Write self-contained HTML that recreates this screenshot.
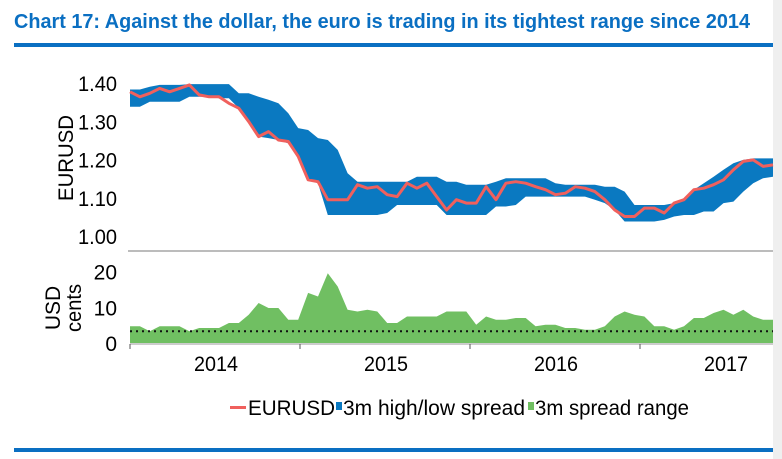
<!DOCTYPE html>
<html><head><meta charset="utf-8"><style>
html,body{margin:0;padding:0;background:#fff;}
svg{display:block;font-family:"Liberation Sans",Arial,sans-serif;}
</style></head><body>
<svg id="chart" width="782" height="459" viewBox="0 0 782 459">
<rect x="773" y="0" width="9" height="459" fill="#efefef"/>
<text x="14" y="28" font-size="20" font-weight="bold" fill="#0a6fc2" textLength="736" lengthAdjust="spacingAndGlyphs">Chart 17:  Against the dollar, the euro is trading in its tightest range since 2014</text>
<rect x="14" y="43" width="759" height="4" fill="#0a6fc2"/>
<rect x="14" y="448" width="759" height="4" fill="#0a6fc2"/>
<g id="upper"></g>
<g id="lower"></g>
<line x1="128" y1="251" x2="773" y2="251" stroke="#a6a6a6" stroke-width="1.5"/>
<text transform="translate(73,158) rotate(-90)" text-anchor="middle" font-size="21" textLength="86" lengthAdjust="spacingAndGlyphs">EURUSD</text>
<text transform="translate(60,308) rotate(-90)" text-anchor="middle" font-size="21">USD</text>
<text transform="translate(81,308) rotate(-90)" text-anchor="middle" font-size="21" textLength="48" lengthAdjust="spacingAndGlyphs">cents</text>
<g>
<rect x="230" y="406" width="16" height="3" fill="#f0605d"/>
<text x="248" y="415" font-size="21" textLength="87" lengthAdjust="spacingAndGlyphs">EURUSD</text>
<rect x="336" y="402" width="6" height="8" fill="#0a79c1"/>
<text x="343" y="415" font-size="21" textLength="182" lengthAdjust="spacingAndGlyphs">3m high/low spread</text>
<rect x="528" y="402" width="6" height="8" fill="#70bf62"/>
<text x="535" y="415" font-size="21" textLength="154" lengthAdjust="spacingAndGlyphs">3m spread range</text>
</g>
</svg>
<script>
const eurusd=[1.377,1.364,1.373,1.386,1.377,1.386,1.395,1.369,1.364,1.364,1.347,1.334,1.299,1.260,1.273,1.251,1.247,1.208,1.147,1.142,1.095,1.095,1.095,1.134,1.125,1.129,1.108,1.103,1.138,1.125,1.138,1.103,1.068,1.095,1.086,1.086,1.129,1.095,1.138,1.142,1.138,1.129,1.121,1.108,1.112,1.129,1.125,1.116,1.095,1.068,1.051,1.051,1.073,1.073,1.060,1.086,1.095,1.121,1.125,1.134,1.147,1.173,1.195,1.199,1.182,1.186];
const bandHigh=[1.383,1.383,1.390,1.395,1.395,1.395,1.397,1.397,1.397,1.397,1.397,1.373,1.373,1.364,1.356,1.347,1.321,1.282,1.277,1.256,1.251,1.225,1.164,1.142,1.142,1.142,1.142,1.142,1.142,1.155,1.155,1.155,1.142,1.142,1.134,1.134,1.134,1.142,1.151,1.151,1.151,1.151,1.151,1.138,1.134,1.134,1.134,1.134,1.129,1.129,1.116,1.081,1.081,1.081,1.081,1.086,1.095,1.121,1.138,1.155,1.173,1.190,1.199,1.203,1.203,1.203];
const bandLow=[1.338,1.338,1.351,1.351,1.351,1.351,1.364,1.364,1.364,1.360,1.360,1.334,1.299,1.260,1.256,1.251,1.242,1.208,1.147,1.138,1.055,1.055,1.055,1.055,1.055,1.055,1.060,1.081,1.081,1.081,1.081,1.081,1.055,1.055,1.055,1.055,1.055,1.077,1.077,1.081,1.103,1.103,1.103,1.103,1.103,1.103,1.103,1.095,1.086,1.068,1.038,1.038,1.038,1.038,1.042,1.051,1.055,1.055,1.064,1.064,1.086,1.090,1.116,1.138,1.151,1.155];
const spread=[4.7,4.7,3.3,4.7,4.7,4.7,3.3,4.2,4.2,4.2,5.6,5.6,7.9,11.2,9.8,9.8,6.5,6.5,14,13,19.5,15.8,9.3,8.8,9.3,8.8,5.6,5.6,7.4,7.4,7.4,7.4,8.8,8.8,8.8,5.1,7.4,6.5,6.5,7,7,4.7,5.1,5.1,4.2,4.2,3.7,3.7,4.7,7.4,8.8,7.9,7.4,4.7,4.7,3.7,4.7,7,7,8.4,9.3,7.9,9.3,7.4,6.5,6.5];
const avgSpread=3.3;
const upperTicks=["1.40","1.30","1.20","1.10","1.00"];
const upperTickVals=[1.40,1.30,1.20,1.10,1.00];
const lowerTicks=["20","10","0"];
const lowerTickVals=[20,10,0];
const years=["2014","2015","2016","2017"];
const yearTicks=[0,1,2,3];

const NS="http://www.w3.org/2000/svg";
const n=eurusd.length;
const X0=130,X1=773;
const x=i=>X0+i*(X1-X0)/(n-1);
const yU=v=>236-(v-1.00)/0.40*153;
const yL=v=>343-v/20*71.5;
const xYear=k=>130+k*170;
function mk(tag,attrs,parent){const e=document.createElementNS(NS,tag);for(const k in attrs)e.setAttribute(k,attrs[k]);parent.appendChild(e);return e;}
const up=document.getElementById('upper'),lo=document.getElementById('lower');

let d="M"+bandHigh.map((v,i)=>x(i).toFixed(1)+","+yU(v).toFixed(1)).join("L");
for(let i=n-1;i>=0;i--)d+="L"+x(i).toFixed(1)+","+yU(bandLow[i]).toFixed(1);
const band=mk('path',{d:d+"Z",fill:"#0a79c1"},up);


const line=mk('polyline',{points:eurusd.map((v,i)=>x(i).toFixed(1)+","+yU(v).toFixed(1)).join(" "),fill:"none",stroke:"#f0605d","stroke-width":3,"stroke-linejoin":"round"},up);


upperTickVals.forEach((v,i)=>{const t=mk('text',{x:117,y:yU(v)+8,"text-anchor":"end","font-size":21,textLength:39,lengthAdjust:"spacingAndGlyphs"},up);t.textContent=upperTicks[i];

});

let a="M"+x(0)+","+yL(0)+spread.map((v,i)=>"L"+x(i).toFixed(1)+","+yL(v).toFixed(1)).join("")+"L"+x(n-1)+","+yL(0)+"Z";
const area=mk('path',{d:a,fill:"#70bf62"},lo);


const avg=mk('line',{x1:X0,x2:X1,y1:yL(avgSpread),y2:yL(avgSpread),stroke:"#111","stroke-width":2,"stroke-dasharray":"2 4"},lo);


lowerTickVals.forEach((v,i)=>{const t=mk('text',{x:117,y:yL(v)+8,"text-anchor":"end","font-size":21},lo);t.textContent=lowerTicks[i];

});
const ax=mk('line',{x1:X0,x2:X1,y1:344,y2:344,stroke:"#999","stroke-width":1},lo);


for(let k=0;k<4;k++){const tk=mk('line',{x1:xYear(k),x2:xYear(k),y1:344,y2:349,stroke:"#555","stroke-width":1},lo);

}
years.forEach((yr,k)=>{const t=mk('text',{x:xYear(yearTicks[k])+86,y:371,"text-anchor":"middle","font-size":21,textLength:44,lengthAdjust:"spacingAndGlyphs"},lo);t.textContent=yr;

});
</script>
</body></html>
